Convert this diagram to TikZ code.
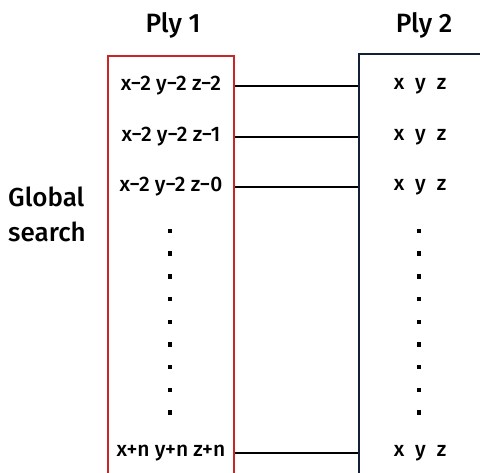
\documentclass[tikz,border=0pt]{standalone}
\usepackage{fontspec}
\setmainfont{Fira Sans}[UprightFont={* Medium}]
\usetikzlibrary{positioning,calc}
\definecolor{plyred}{HTML}{C62828}
\definecolor{plynavy}{HTML}{13203A}
\tikzset{
  plybox/.style={rectangle, line width=2.4pt, minimum width=126pt, minimum height=460pt,
    anchor=north west, inner sep=0pt},
  entry/.style={font=\fontsize{21}{24}\selectfont, inner sep=0pt},
  plytitle/.style={font=\fontsize{26.5}{30}\selectfont, inner sep=0pt, anchor=base},
  sidelabel/.style={font=\fontsize{26}{30}\selectfont, inner sep=0pt, anchor=base west},
  link/.style={line width=1.3pt, draw=black},
  vdot/.style={rectangle, fill=black, minimum size=4.5pt, inner sep=0pt},
}

\begin{document}
\begin{tikzpicture}[x=1pt,y=-1pt]
  \useasboundingbox (0,0) rectangle (480,473);
  \clip (0,0) rectangle (480,473);
  \node[plybox, draw=plyred] (p1) at (107,55) {};
  \node[plybox, draw=plynavy, minimum width=140pt] (p2) at (358,53) {};
  \node[plytitle] (t1) at (173,33) {Ply 1};
  \node[plytitle] (t2) at (424,33) {Ply 2};
  \node[sidelabel] (g1) at (8,207) {Global};
  \node[sidelabel] (g2) at (8,242) {search};
  \foreach \y/\l [count=\i] in {86/{x−2 y−2 z−2},137/{x−2 y−2 z−1},187/{x−2 y−2 z−0},453/{x+n y+n z+n}} {
    \node[entry] (a\i) at (171,\y) {\l};
    \node[entry] (b\i) at (420,\y) {x\hspace{0.52em}y\hspace{0.52em}z};
    \draw[link] (p1.east |- a\i) -- (p2.west |- a\i);
  }
  \foreach \i in {0,...,8} {
    \node[vdot] (da\i) at (170,{231+22.7*\i}) {};
    \node[vdot] (db\i) at (419,{231+22.7*\i}) {};
  }
\end{tikzpicture}
\end{document}
